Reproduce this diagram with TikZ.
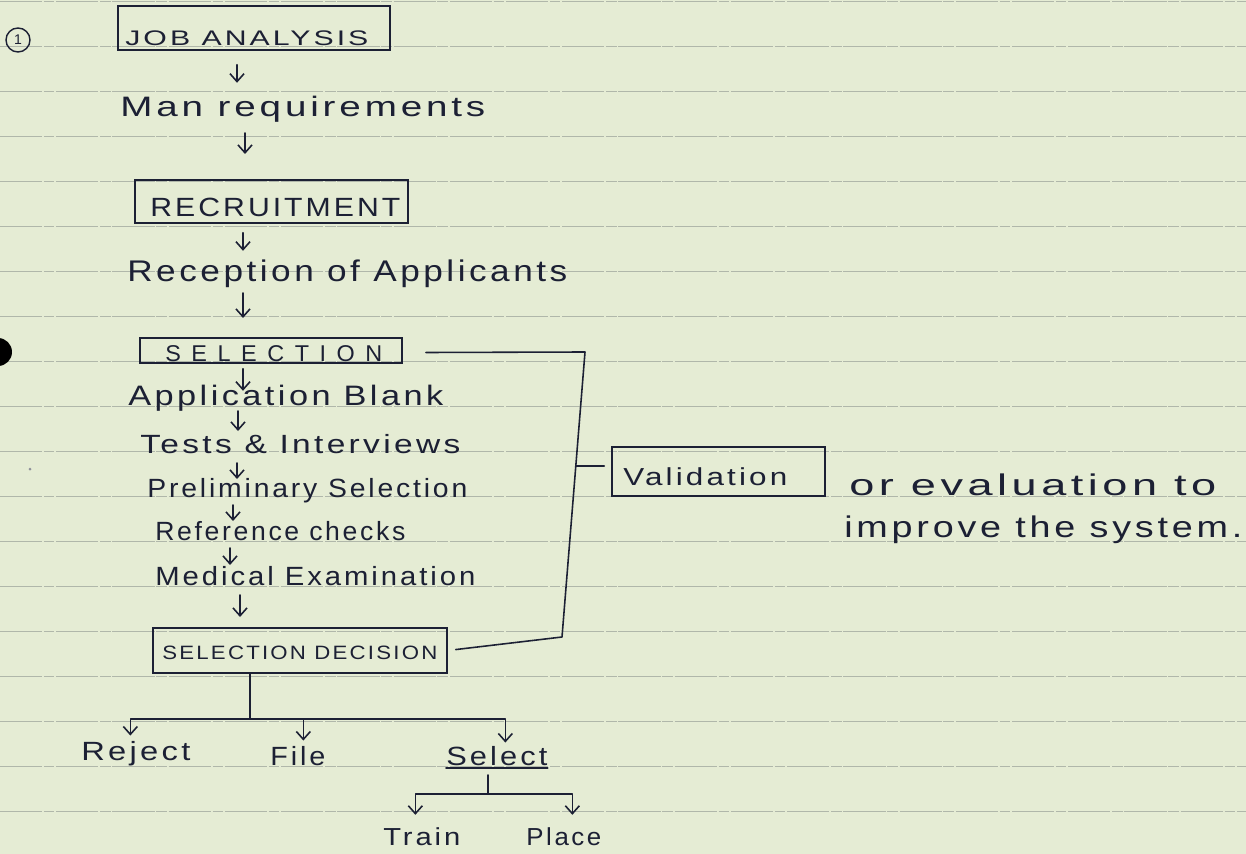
\documentclass[tikz,border=0pt]{standalone}
\usepackage{fontspec}
\setmainfont{Liberation Sans}[LetterSpace=10]
\usepackage{graphicx}
\usetikzlibrary{arrows.meta,fit,calc}

% one unit = one pixel of the page grid
\newlength\pxu \setlength\pxu{0.02cm}
\newcommand\fitw[2]{\resizebox{#1\pxu}{\height}{#2}}

\definecolor{paper}{RGB}{229,236,212}
\definecolor{ink}{RGB}{28,32,52}
\definecolor{ruling}{RGB}{176,183,170}

\tikzset{
  hw/.style={inner sep=0pt, anchor=base west, text=ink, font=\fontsize{#1}{#1}\selectfont},
  hw/.default=15,
  box/.style={draw=ink, line width=0.9pt, inner sep=0pt, rectangle},
  pen/.style={draw=ink, line width=0.9pt, line cap=round, line join=round},
  arr/.style={pen, -{Straight Barb[length=4.5pt,width=8pt]}},
}

\begin{document}
\begin{tikzpicture}[x=0.02cm, y=-0.02cm]
\useasboundingbox (0,0) rectangle (1246,854);
\clip (0,0) rectangle (1246,854);
\fill[paper] (0,0) rectangle (1246,854);

% ruled paper
\foreach \ry in {1,46,...,811}
  \draw[ruling, line width=0.5pt, dash pattern=on 24pt off 1pt on 6pt off 1pt] (0,\ry) -- (1246,\ry);

% punch hole and stray mark
\fill[black] (-2,352) circle[radius=0.28cm];
\fill[ink!50] (30,469) circle[radius=0.03cm];

% item number
\node[draw=ink, circle, line width=0.8pt, minimum size=0.48cm, inner sep=0pt,
      text=ink, font=\fontsize{8}{8}\selectfont] (num) at (18,40) {1};

% main chain
\node[box, fit={(118,6)(390,50)}] (jobbox) {};
\node[hw=12] (jobtxt) at (125,46) {\fitw{243}{JOB ANALYSIS}};
\draw[arr] (jobbox.south -| 237,0) ++(0,14) -- ++(0,18);

\node[hw=16] (manreq) at (120,117) {\fitw{365}{Man requirements}};
\draw[arr] (manreq.base -| 245,0) ++(0,16) -- ++(0,21);

\node[box, fit={(135,180)(408,223)}] (recbox) {};
\node[hw=15] (rectxt) at (150,217) {\fitw{250}{RECRUITMENT}};
\draw[arr] (recbox.south -| 243,0) ++(0,9) -- ++(0,18);

\node[hw=17] (recep) at (127,282) {\fitw{440}{Reception of Applicants}};
\draw[arr] (recep.base -| 243,0) ++(0,11) -- ++(0,25);

\node[box, fit={(140,338)(402,363)}] (selbox) {};
\node[hw=13] (seltxt) at (165,361) {\fitw{217}{\addfontfeature{LetterSpace=45}SELECTION}};
\draw[arr] (selbox.south -| 243,0) ++(0,5) -- ++(0,22);

\node[hw=16] (appl) at (128,405) {\fitw{315}{Application Blank}};
\draw[arr] (appl.base -| 238,0) ++(0,6) -- ++(0,20);

\node[hw=15] (tests) at (140,453) {\fitw{320}{Tests \& Interviews}};
\draw[arr] (tests.base -| 237,0) ++(0,10) -- ++(0,16);

\node[hw=15] (prelim) at (147,497) {\fitw{320}{Preliminary Selection}};
\draw[arr] (prelim.base -| 233,0) ++(0,8) -- ++(0,16);

\node[hw=15] (ref) at (155,540) {\fitw{250}{Reference checks}};
\draw[arr] (ref.base -| 230,0) ++(0,8) -- ++(0,17);

\node[hw=15] (med) at (155,585) {\fitw{320}{Medical Examination}};
\draw[arr] (med.base -| 240,0) ++(0,10) -- ++(0,22);

\node[box, fit={(153,628)(447,673)}] (decbox) {};
\node[hw=11] (dectxt) at (162,659) {\fitw{275}{SELECTION DECISION}};

% validation loop
\node[box, fit={(612,447)(825,496)}] (valbox) {};
\node[hw=14] (valtxt) at (623,485) {\fitw{164}{Validation}};
\node[hw=17] (eval1) at (849,495) {\fitw{367}{or evaluation to}};
\node[hw=17] (eval2) at (844,537) {\fitw{398}{improve the system.}};

\coordinate (lpT) at (585,352);
\coordinate (lpB) at (562,637);
\coordinate (tick) at ($(lpT)!0.4!(lpB)$);
\draw[pen, shorten >=0.16cm] (selbox.east) ++(23,2) -- (lpT) -- (lpB) -- (decbox.east);
\draw[pen, shorten >=0.14cm] (tick) -- (tick -| valbox.west);

% outcomes of the decision
\coordinate (bj) at (250,719);
\draw[pen] (decbox.south -| bj) -- (bj);
\node[hw=15] (reject) at (81,760) {\fitw{109}{Reject}};
\node[hw=15] (file) at (270,765) {\fitw{55}{File}};
\node[hw=15] (select) at (446,765) {\fitw{101}{Select}};
\draw[arr, shorten >=0.1cm] (bj) -| ([xshift=-0.11cm]reject.north);
\draw[arr, shorten >=0.1cm] (bj) -| ([xshift=0.11cm]file.north);
\draw[arr, shorten >=0.06cm] (bj) -| ([xshift=0.17cm]select.north);
\draw[pen] ([yshift=-0.06cm]select.base west) -- ([yshift=-0.06cm]select.base east);

% outcomes of selecting
\coordinate (sj) at (488,794);
\draw[pen] (select.base -| sj) ++(0,10) -- (sj);
\node[hw=14] (train) at (383,845) {\fitw{77}{Train}};
\node[hw=14] (place) at (526,845) {\fitw{75}{Place}};
\draw[arr, shorten >=0.24cm] (sj) -| ([xshift=-0.13cm]train.north);
\draw[arr, shorten >=0.24cm] (sj) -| ([xshift=0.17cm]place.north);
\end{tikzpicture}
\end{document}
